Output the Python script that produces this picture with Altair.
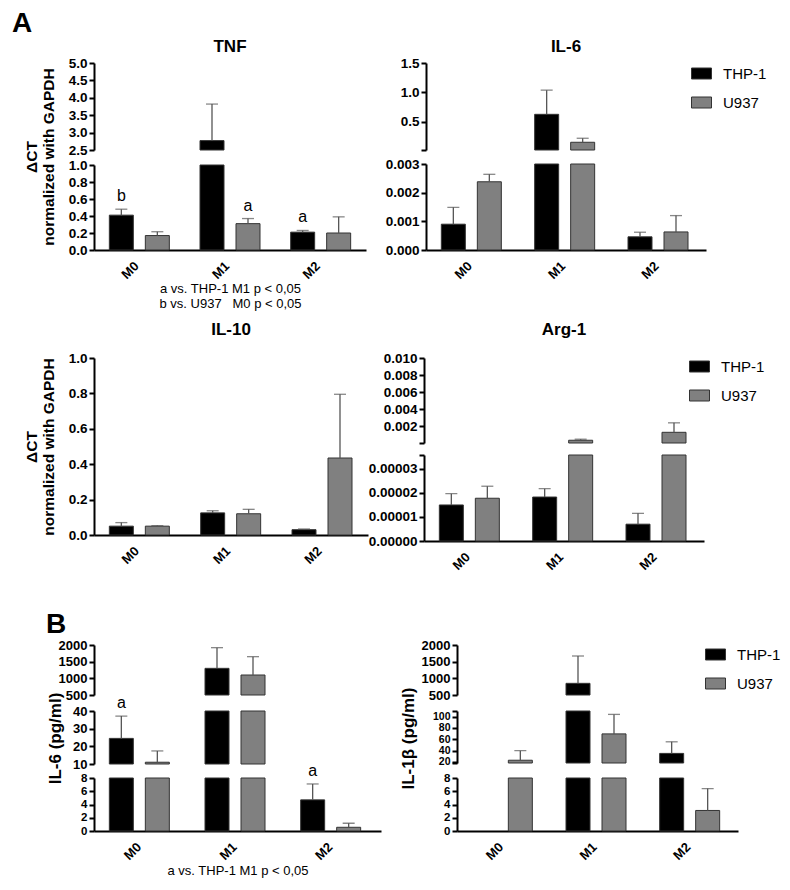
import altair as alt
import pandas as pd

FONT = "Liberation Sans"

conditions = ["M0", "M1", "M2"]
cell_lines = ["THP-1", "U937"]
bar_colors = ["#000000", "#808080"]

# ---- A: TNF ----
tnf_thp1 = [0.41, 2.77, 0.21]
tnf_thp1_top = [0.48, 3.82, 0.23]
tnf_u937 = [0.17, 0.31, 0.20]
tnf_u937_top = [0.215, 0.37, 0.39]
tnf_thp1_note = ["b", "", "a"]
tnf_u937_note = ["", "a", ""]

# ---- A: IL-6 ----
il6_thp1 = [0.0009, 0.63, 0.00046]
il6_thp1_top = [0.00149, 1.04, 0.00062]
il6_u937 = [0.00238, 0.156, 0.00063]
il6_u937_top = [0.00264, 0.224, 0.0012]

# ---- A: IL-10 ----
il10_thp1 = [0.05, 0.125, 0.03]
il10_thp1_top = [0.07, 0.137, 0.034]
il10_u937 = [0.05, 0.12, 0.435]
il10_u937_top = [0.053, 0.145, 0.795]

# ---- A: Arg-1 ----
arg_thp1 = [0.0000150, 0.0000183, 0.0000070]
arg_thp1_top = [0.0000197, 0.0000218, 0.0000115]
arg_u937 = [0.0000178, 0.00036, 0.00129]
arg_u937_top = [0.0000228, 0.00048, 0.0024]

# ---- B: IL-6 (pg/ml) ----
bil6_thp1 = [24.5, 1300, 4.7]
bil6_thp1_top = [37.1, 1920, 7.1]
bil6_u937 = [11.0, 1100, 0.56]
bil6_u937_top = [17.4, 1650, 1.17]
bil6_thp1_note = ["a", "", "a"]

# ---- B: IL-1beta (pg/ml) ----
bil1b_thp1 = [0.0, 850, 35.0]
bil1b_thp1_top = [0.0, 1670, 55.5]
bil1b_u937 = [22.9, 69.5, 3.1]
bil1b_u937_top = [39.8, 104, 6.4]

empty_note = ["", "", ""]

legend_shape = "M-1,-0.55H1V0.55H-1Z"


def make_legend(lx, ly):
    return alt.Legend(orient="none", legendX=lx, legendY=ly, title=None,
                      labelFontSize=15, labelFont=FONT, labelColor="black",
                      symbolType=legend_shape, symbolSize=400,
                      symbolStrokeColor="#333333", symbolStrokeWidth=1,
                      symbolOpacity=1, rowPadding=10, labelOffset=11)


def panel(thp, thp_top, u9, u9_top, segs, width, height, thp_note=empty_note,
          u9_note=empty_note, title=None, title_offset=12,
          ytitle=None, ytitle_x=-50, xtitle=None, xtitle_pad=2, legend=None,
          label_size=13.5, ytitle_size=15.5):
    df = pd.DataFrame({
        "cond": conditions * 2,
        "line": [cell_lines[0]] * 3 + [cell_lines[1]] * 3,
        "v": thp + u9,
        "top": thp_top + u9_top,
        "note": thp_note + u9_note,
    })
    band = width / 3.0
    xo_outer = (band / 2.0 - 30.0) / 36.0
    x_axis_kw = dict(labelAngle=315, labelFontWeight="bold", labelFontSize=13,
                     labelAlign="center", labelBaseline="middle",
                     ticks=False, domainWidth=2, domainColor="black",
                     labelPadding=20, labelOffset=-9, labelColor="black")
    if xtitle is not None:
        x_axis_kw.update(title=xtitle, titleFontWeight="normal", titleFontSize=13,
                         titlePadding=xtitle_pad, titleColor="black",
                         titleLineHeight=15)
    else:
        x_axis_kw.update(title=None)
    x_enc = alt.X("cond:N", sort=conditions,
                  scale=alt.Scale(domain=conditions, paddingInner=0, paddingOuter=0),
                  axis=alt.Axis(**x_axis_kw))
    xo_enc = alt.XOffset("line:N", sort=cell_lines,
                         scale=alt.Scale(domain=cell_lines, paddingInner=1 / 3,
                                         paddingOuter=xo_outer))
    color_enc = alt.Color("line:N", sort=cell_lines,
                          scale=alt.Scale(domain=cell_lines, range=bar_colors),
                          legend=legend)
    layers = []
    nseg = len(segs)
    for i, s in enumerate(segs):
        lo, hi = s["domain"]
        extras = s.get("extra", [])
        tol = (hi - lo) * 1e-6
        akw = dict(orient="left", values=s["ticks"] + extras, format=s["fmt"],
                   labelFontWeight="bold",
                   labelFontSize=s.get("size", label_size),
                   labelColor="black", domainWidth=2, domainColor="black",
                   tickWidth=2, tickSize=5, tickColor="black", labelPadding=2,
                   labelOverlap=False, grid=False)
        if extras:
            cond = " || ".join(f"abs(datum.value - {e}) < {tol}" for e in extras)
            akw["labelExpr"] = f"({cond}) ? '' : datum.label"
        if i == nseg - 1 and ytitle is not None:
            akw.update(title=ytitle, titleX=ytitle_x, titleY=height / 2.0,
                       titleAngle=270, titleAlign="center", titleBaseline="bottom",
                       titleFontSize=ytitle_size, titleFontWeight="bold",
                       titleColor="black")
        else:
            akw.update(title=None)
        axis = alt.Axis(**akw)
        sc = alt.Scale(domain=[lo, hi], range=s["range"], clamp=True, nice=False,
                       zero=False)
        base = alt.Chart(df)
        bars = base.transform_filter(f"datum.v > {lo}").mark_bar(
            stroke="#333333", strokeWidth=1).encode(
            x=x_enc, xOffset=xo_enc,
            y=alt.Y("v:Q", scale=sc, axis=axis), y2=alt.datum(0),
            color=color_enc)
        rules = base.transform_filter(
            f"datum.v < {hi} && datum.top > {lo} && datum.top > datum.v").mark_rule(
            color="#555555", strokeWidth=1.3).encode(
            x=x_enc, xOffset=xo_enc,
            y=alt.Y("v:Q", scale=sc, axis=axis), y2="top:Q")
        caps = base.transform_filter(
            f"datum.top >= {lo} && datum.top <= {hi} && datum.top > datum.v").mark_tick(
            color="#555555", thickness=1.3, size=12, orient="horizontal").encode(
            x=x_enc, xOffset=xo_enc,
            y=alt.Y("top:Q", scale=sc, axis=axis))
        notes = base.transform_filter(
            f"datum.note != '' && datum.top >= {lo} && datum.top <= {hi}").mark_text(
            fontSize=16, baseline="bottom", dy=-5, color="black", font=FONT).encode(
            x=x_enc, xOffset=xo_enc,
            y=alt.Y("top:Q", scale=sc, axis=axis), text="note:N")
        layers.append(alt.layer(bars, rules, caps, notes))
    ch = alt.layer(*layers).resolve_scale(y="independent").properties(
        width=width, height=height)
    if title is not None:
        ch = ch.properties(title=alt.Title(title, fontSize=17, fontWeight="bold",
                                           font=FONT, color="black", frame="group",
                                           anchor="middle", offset=title_offset))
    return ch


tnf = panel(tnf_thp1, tnf_thp1_top, tnf_u937, tnf_u937_top,
            [dict(domain=[2.5, 5.0], range=[87, 0],
                  ticks=[2.5, 3.0, 3.5, 4.0, 4.5, 5.0], fmt=".1f"),
             dict(domain=[0.0, 1.0], range=[187, 102],
                  ticks=[0.0, 0.2, 0.4, 0.6, 0.8, 1.0], fmt=".1f")],
            272, 187, thp_note=tnf_thp1_note, u9_note=tnf_u937_note, title="TNF",
            title_offset=0, ytitle=["ΔCT", "normalized with GAPDH"], ytitle_x=-55,
            xtitle=["a vs. THP-1 M1 p < 0,05",
                    "b vs. U937\u00a0\u00a0\u00a0M0 p < 0,05"], xtitle_pad=1)

il6 = panel(il6_thp1, il6_thp1_top, il6_u937, il6_u937_top,
            [dict(domain=[0.025, 1.5], range=[87, 0], ticks=[0.5, 1.0, 1.5],
                  extra=[0.025], fmt=".1f"),
             dict(domain=[0.0, 0.003], range=[187, 101],
                  ticks=[0.0, 0.001, 0.002, 0.003], fmt=".3f")],
            280, 187, title="IL-6", title_offset=0, legend=make_legend(265, 0))

il10 = panel(il10_thp1, il10_thp1_top, il10_u937, il10_u937_top,
             [dict(domain=[0.0, 1.0], range=[177, 0],
                   ticks=[0.0, 0.2, 0.4, 0.6, 0.8, 1.0], fmt=".1f")],
             274, 177, title="IL-10",
             ytitle=["ΔCT", "normalized with GAPDH"], ytitle_x=-55)

arg1 = panel(arg_thp1, arg_thp1_top, arg_u937, arg_u937_top,
             [dict(domain=[0.0000358, 0.010], range=[85, 0],
                   ticks=[0.002, 0.004, 0.006, 0.008, 0.010], extra=[0.0000358],
                   fmt=".3f"),
              dict(domain=[0.0, 0.0000358], range=[183, 97],
                   ticks=[0.0, 0.00001, 0.00002, 0.00003], extra=[0.0000358],
                   fmt=".5f")],
             280, 183, title="Arg-1", legend=make_legend(265, -2))

bil6 = panel(bil6_thp1, bil6_thp1_top, bil6_u937, bil6_u937_top,
             [dict(domain=[500, 2000], range=[50, 0], ticks=[500, 1000, 1500, 2000],
                   fmt="d"),
              dict(domain=[10, 40], range=[119, 66], ticks=[10, 20, 30, 40], fmt="d"),
              dict(domain=[0, 8], range=[186, 133], ticks=[0, 2, 4, 6, 8], fmt="d",
                   size=11.5)],
             287, 186, thp_note=bil6_thp1_note, ytitle="IL-6 (pg/ml)", ytitle_x=-30,
             xtitle="a vs. THP-1 M1 p < 0,05", xtitle_pad=2, label_size=13,
             ytitle_size=17)

bil1b = panel(bil1b_thp1, bil1b_thp1_top, bil1b_u937, bil1b_u937_top,
              [dict(domain=[500, 2000], range=[50, 0], ticks=[500, 1000, 1500, 2000],
                    fmt="d"),
               dict(domain=[18, 110], range=[118, 66], ticks=[20, 40, 60, 80, 100],
                    extra=[18, 110], fmt="d", size=10.5),
               dict(domain=[0, 8], range=[186, 133], ticks=[0, 2, 4, 6, 8], fmt="d",
                    size=11.5)],
              281, 186, ytitle="IL-1β (pg/ml)", ytitle_x=-40,
              legend=make_legend(248, -1), label_size=13, ytitle_size=17)

row1 = alt.hconcat(tnf, il6, spacing=19).resolve_scale(color="independent")
row2 = alt.hconcat(il10, arg1, spacing=0).resolve_scale(color="independent")
row3 = alt.hconcat(bil6, bil1b, spacing=18).resolve_scale(
    color="independent").properties(
    title=alt.Title("B", anchor="start", fontSize=28, fontWeight="bold", font=FONT,
                    color="black", offset=0))

top_rows = alt.vconcat(row1, row2, spacing=10).resolve_scale(color="independent")

chart = alt.vconcat(top_rows, row3, spacing=38).resolve_scale(
    color="independent").properties(
    title=alt.Title("A", anchor="start", fontSize=28, fontWeight="bold", font=FONT,
                    color="black", dx=-12, offset=0),
    padding={"left": 4, "top": 2, "right": 0, "bottom": 0},
).configure_view(stroke=None).configure_axis(
    grid=False, labelFont=FONT, titleFont=FONT
).configure_title(font=FONT).configure_legend(labelFont=FONT)

chart.save("out.html", embed_options={"renderer": "svg", "actions": False})
